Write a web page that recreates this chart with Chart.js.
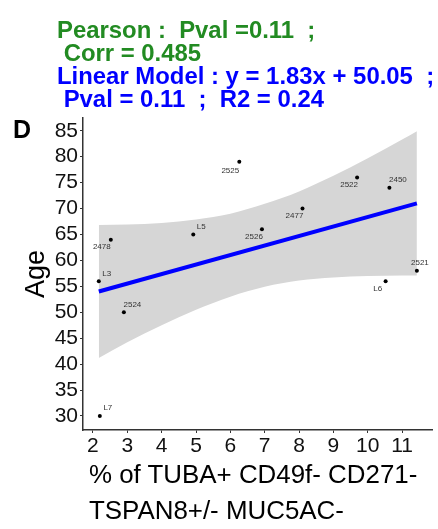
<!DOCTYPE html>
<html lang="en">

<head>
    <meta charset="UTF-8">
    <title>Age vs % TUBA+ cells</title>
    <script src="https://cdn.jsdelivr.net/npm/chart.js"></script>
    <style>
        body {
            margin: 0;
            background: #fff;
        }

        #wrap {
            position: relative;
            width: 438px;
            height: 529px;
            font-family: "Liberation Sans", Arial, sans-serif;
        }

        #wrap canvas {
            position: absolute;
            left: 0;
            top: 0;
        }

        .overlay {
            position: absolute;
            white-space: pre;
            pointer-events: none;
        }

        #header {
            left: 57px;
            top: 18px;
            font-size: 23.9px;
            line-height: 23px;
            font-weight: bold;
        }

        .green { color: #228B22; }
        .blue { color: #0000ff; }

        #panelTag {
            left: 13px;
            top: 117px;
            font-size: 25px;
            line-height: 25px;
            font-weight: bold;
        }

        #xTitle {
            left: 89px;
            top: 456px;
            font-size: 25.9px;
            line-height: 36px;
            color: #000;
        }
    </style>
</head>

<body>
    <div id="wrap">
        <canvas id="chart"></canvas>
        <div id="header" class="overlay"><span class="green">Pearson :  Pval =0.11  ;
 Corr = 0.485</span>
<span class="blue">Linear Model : y = 1.83x + 50.05  ;
 Pval = 0.11  ;  R2 = 0.24</span></div>
        <div id="panelTag" class="overlay">D</div>
        <div id="xTitle" class="overlay">% of TUBA+ CD49f- CD271-
TSPAN8+/- MUC5AC-</div>
    </div>

    <script>
        // samples
        const sampleIds = ['L7', '2524', 'L3', '2478', 'L5', '2525', '2526', '2477', '2522', '2450', '2521', 'L6'];
        const pctTuba = [2.2, 2.9, 2.17, 2.52, 4.92, 6.26, 6.92, 8.1, 9.69, 10.63, 11.43, 10.52];
        const ages = [30, 50, 56, 64, 65, 79, 66, 70, 76, 74, 58, 56];

        // fitted line end points and 95% band
        const fitX = [2.17, 11.43];
        const fitY = [54.0, 71.0];
        const bandX = [2.17, 3, 4, 5, 6, 7, 8, 9, 10, 11, 11.43];
        const bandUpper = [66.8, 66.9, 67.2, 67.9, 69.0, 70.9, 73.3, 76.3, 79.7, 83.3, 84.9];
        const bandLower = [41.2, 44.2, 47.5, 50.5, 53.0, 54.9, 56.1, 56.7, 57.0, 57.1, 57.1];

        const xTicks = [2, 3, 4, 5, 6, 7, 8, 9, 10, 11];
        const yTicks = [30, 35, 40, 45, 50, 55, 60, 65, 70, 75, 80, 85];

        const toXY = (xs, ys) => xs.map((x, i) => ({ x: x, y: ys[i] }));

        // where each sample name sits relative to its dot (px)
        const labelOffsets = [[8, -8], [8.5, -7], [8, -7], [-9, 7.5], [8, -7.5], [-9, 8.5],
        [-8, 8], [-8, 7.5], [-8, 7], [8.5, -8], [3, -7.5], [-8, 8]];

        const pointLabels = {
            id: 'pointLabels',
            afterDatasetsDraw(chart) {
                const meta = chart.getDatasetMeta(0);
                const ctx = chart.ctx;
                ctx.save();
                ctx.font = '8px "Liberation Sans", Arial, sans-serif';
                ctx.fillStyle = '#333';
                ctx.textAlign = 'center';
                ctx.textBaseline = 'middle';
                meta.data.forEach((pt, i) => {
                    const off = labelOffsets[i];
                    ctx.fillText(sampleIds[i], pt.x + off[0], pt.y + off[1]);
                });
                ctx.restore();
            }
        };

        const axisStyle = {
            grid: { display: true, drawOnChartArea: false, drawTicks: true, tickLength: 3, color: '#333', lineWidth: 1 },
            border: { display: true, color: '#333', width: 1.5 }
        };

        new Chart(document.getElementById('chart'), {
            type: 'scatter',
            data: {
                datasets: [
                    {
                        label: 'samples',
                        data: toXY(pctTuba, ages),
                        pointRadius: 2,
                        backgroundColor: '#000',
                        borderWidth: 0
                    },
                    {
                        label: 'fit',
                        type: 'line',
                        data: toXY(fitX, fitY),
                        borderColor: '#0000ff',
                        borderWidth: 4,
                        pointRadius: 0,
                        fill: false
                    },
                    {
                        label: 'upper',
                        type: 'line',
                        data: toXY(bandX, bandUpper),
                        borderWidth: 0,
                        pointRadius: 0,
                        cubicInterpolationMode: 'monotone',
                        backgroundColor: 'rgb(214, 214, 214)',
                        fill: '+1'
                    },
                    {
                        label: 'lower',
                        type: 'line',
                        data: toXY(bandX, bandLower),
                        borderWidth: 0,
                        pointRadius: 0,
                        cubicInterpolationMode: 'monotone',
                        fill: false
                    }
                ]
            },
            options: {
                responsive: true,
                maintainAspectRatio: false,
                animation: false,
                layout: { padding: { top: 118, right: 6, left: 0, bottom: 0 } },
                plugins: {
                    legend: { display: false },
                    tooltip: { enabled: false }
                },
                scales: {
                    x: {
                        type: 'linear',
                        min: 1.71,
                        max: 11.87,
                        ...axisStyle,
                        ticks: {
                            padding: 1,
                            color: '#111',
                            font: { family: '"Liberation Sans", Arial, sans-serif', size: 21 }
                        },
                        afterBuildTicks: (scale) => { scale.ticks = xTicks.map(v => ({ value: v })); },
                        afterFit: (scale) => { scale.height = 99; }
                    },
                    y: {
                        type: 'linear',
                        min: 27.3,
                        max: 87.45,
                        ...axisStyle,
                        ticks: {
                            padding: 2,
                            color: '#111',
                            font: { family: '"Liberation Sans", Arial, sans-serif', size: 21 }
                        },
                        title: {
                            display: true,
                            text: 'Age',
                            color: '#000',
                            padding: { top: 23, bottom: 0 },
                            font: { family: '"Liberation Sans", Arial, sans-serif', size: 27, lineHeight: 1 }
                        },
                        afterBuildTicks: (scale) => { scale.ticks = yTicks.map(v => ({ value: v })); },
                        afterFit: (scale) => { scale.width = 83; }
                    }
                }
            },
            plugins: [pointLabels]
        });
    </script>
</body>

</html>
